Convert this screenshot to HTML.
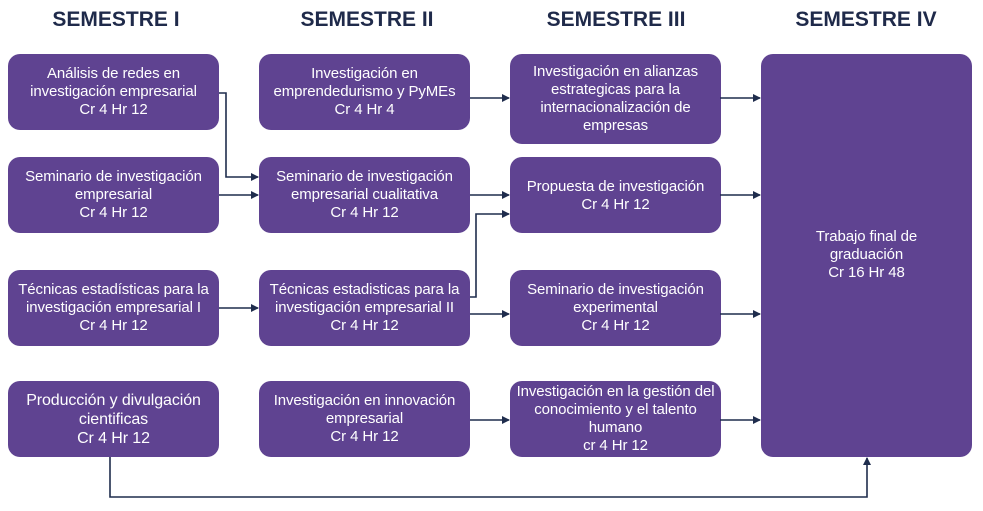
<!DOCTYPE html>
<html><head><meta charset="utf-8"><style>
body{margin:0;width:983px;height:511px;background:#fff;position:relative;font-family:"Liberation Sans",Arial,sans-serif;overflow:hidden}
.h{position:absolute;top:8px;font-weight:bold;font-size:21px;color:#1f2a4a;text-align:center;width:240px}
.b{position:absolute;background:#5f4391;border-radius:12px;color:#fff;font-size:15px;line-height:18px;display:flex;align-items:center;justify-content:center;text-align:center;width:211px;height:76px;box-sizing:border-box;padding:0 2px;letter-spacing:-0.1px}
svg{position:absolute;left:0;top:0}
</style></head><body>
<div class="h" style="left:-4px">SEMESTRE I</div>
<div class="h" style="left:247px">SEMESTRE II</div>
<div class="h" style="left:496px">SEMESTRE III</div>
<div class="h" style="left:746px">SEMESTRE IV</div>

<div class="b" style="left:8px;top:54px">Análisis de redes en<br>investigación empresarial<br>Cr 4 Hr 12</div>
<div class="b" style="left:8px;top:157px">Seminario de investigación<br>empresarial<br>Cr 4 Hr 12</div>
<div class="b" style="left:8px;top:270px">Técnicas estadísticas para la<br>investigación empresarial I<br>Cr 4 Hr 12</div>
<div class="b" style="left:8px;top:381px;font-size:16px;line-height:19px">Producción y divulgación<br>cientificas<br>Cr 4 Hr 12</div>

<div class="b" style="left:259px;top:54px">Investigación en<br>emprendedurismo y PyMEs<br>Cr 4 Hr 4</div>
<div class="b" style="left:259px;top:157px">Seminario de investigación<br>empresarial cualitativa<br>Cr 4 Hr 12</div>
<div class="b" style="left:259px;top:270px">Técnicas estadisticas para la<br>investigación empresarial II<br>Cr 4 Hr 12</div>
<div class="b" style="left:259px;top:381px">Investigación en innovación<br>empresarial<br>Cr 4 Hr 12</div>

<div class="b" style="left:510px;top:54px;height:90px">Investigación en alianzas<br>estrategicas para la<br>internacionalización de<br>empresas</div>
<div class="b" style="left:510px;top:157px;align-items:flex-start;padding-top:21px">Propuesta de investigación<br>Cr 4 Hr 12</div>
<div class="b" style="left:510px;top:270px">Seminario de investigación<br>experimental<br>Cr 4 Hr 12</div>
<div class="b" style="left:510px;top:381px">Investigación en la gestión del<br>conocimiento y el talento<br>humano<br>cr 4 Hr 12</div>

<div class="b" style="left:761px;top:54px;height:403px;width:211px;align-items:flex-start;padding-top:174px">Trabajo final de<br>graduación<br>Cr 16 Hr 48</div>

<svg width="983" height="511">
<defs><marker id="a" markerWidth="8" markerHeight="8" refX="7" refY="4" orient="auto" markerUnits="userSpaceOnUse"><path d="M0,0 L8,4 L0,8 z" fill="#1f2d4d"/></marker></defs>
<g stroke="#1f2d4d" stroke-width="1.6" fill="none" marker-end="url(#a)">
<path d="M219,93 H226 V177 H258"/>
<path d="M219,195 H258"/>
<path d="M219,308 H258"/>
<path d="M470,98 H509"/>
<path d="M470,195 H509"/>
<path d="M470,297 H476 V214 H509"/>
<path d="M470,314 H509"/>
<path d="M470,420 H509"/>
<path d="M720,98 H760"/>
<path d="M720,195 H760"/>
<path d="M720,314 H760"/>
<path d="M720,420 H760"/>
<path d="M110,457 V497 H867 V458"/>
</g></svg>
</body></html>
